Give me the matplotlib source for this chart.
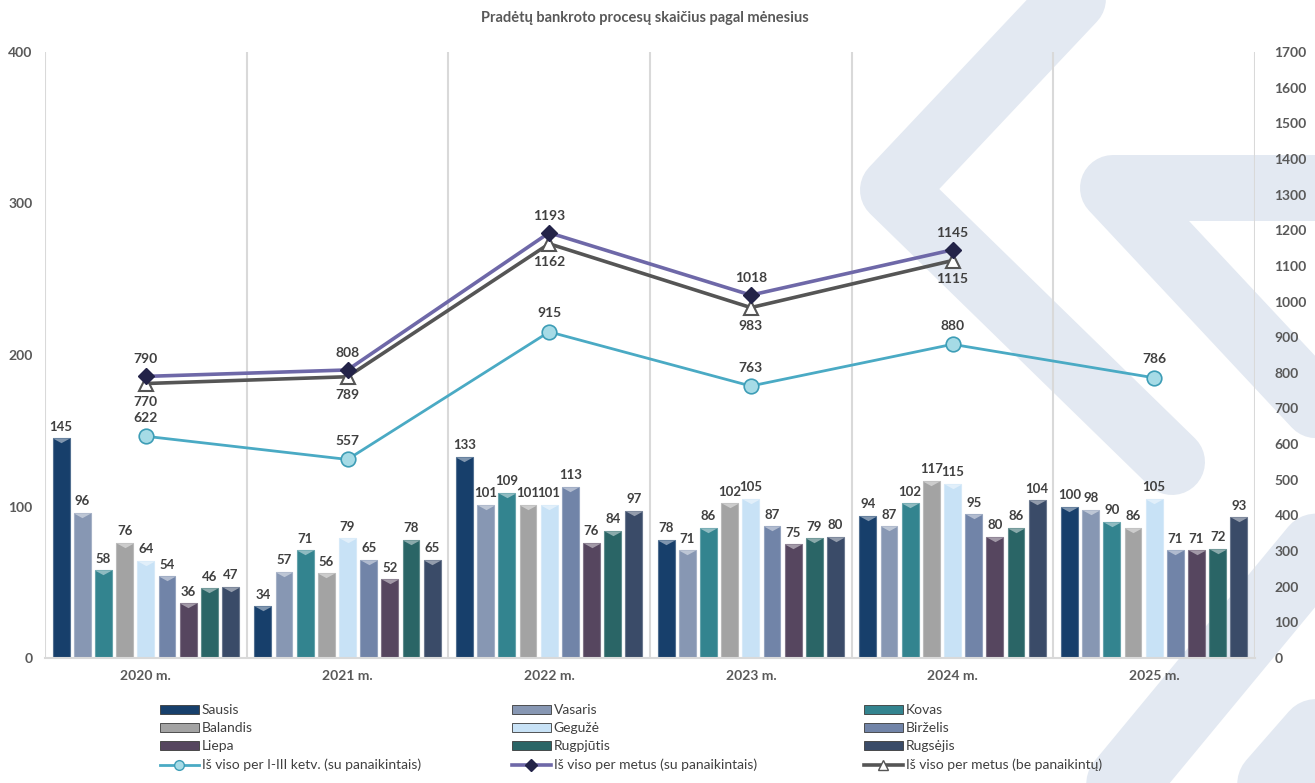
import numpy as np
import matplotlib
matplotlib.use("Agg")
import matplotlib.pyplot as plt
from matplotlib.colors import to_rgb
from matplotlib.patches import Patch
from matplotlib.lines import Line2D

plt.rcParams["font.family"] = ["Lato", "DejaVu Sans"]

# ------------------------- DATA -------------------------
years = ["2020 m.", "2021 m.", "2022 m.", "2023 m.", "2024 m.", "2025 m."]
months = ["Sausis", "Vasaris", "Kovas", "Balandis", "Gegužė", "Birželis",
          "Liepa", "Rugpjūtis", "Rugsėjis"]
# rows = years, columns = months
monthly = [
    [145, 96, 58, 76, 64, 54, 36, 46, 47],
    [34, 57, 71, 56, 79, 65, 52, 78, 65],
    [133, 101, 109, 101, 101, 113, 76, 84, 97],
    [78, 71, 86, 102, 105, 87, 75, 79, 80],
    [94, 87, 102, 117, 115, 95, 80, 86, 104],
    [100, 98, 90, 86, 105, 71, 71, 72, 93],
]
q1_3_with = [622, 557, 915, 763, 880, 786]
year_with = [790, 808, 1193, 1018, 1145, None]
year_without = [770, 789, 1162, 983, 1115, None]

line_names = ["Iš viso per I-III ketv. (su panaikintais)",
              "Iš viso per metus (su panaikintais)",
              "Iš viso per metus (be panaikintų)"]
title = "Pradėtų bankroto procesų skaičius pagal mėnesius"

# ------------------------- STYLE -------------------------
bar_colors = ["#173f6b", "#8797b3", "#33848f", "#a3a3a3", "#c8e2f6",
              "#7184a8", "#56465f", "#2a6566", "#3a4b68"]
TXT = "#404040"
GRID = "#d9d9d9"
WM = "#e3e9f2"

# watermark bands in figure pixels (x, y from top-left)
wm_bands = [
    ([1110, 1072, 893, 1172], [-40, 0, 190, 462], 66),
    ([1400, 1113, 1400], [188, 188, 495], 66),
    ([1090, 1400], [823, 448], 72),
    ([1240, 1400], [822, 639], 72),
]

def lighten(c, f):
    r = np.array(to_rgb(c))
    return tuple(r + (1 - r) * f)

W, H = 1315, 783
fig = plt.figure(figsize=(W / 100, H / 100), dpi=100)
fig.patch.set_facecolor("white")

# watermark layer
bg = fig.add_axes([0, 0, 1, 1], zorder=0)
bg.set_xlim(0, W); bg.set_ylim(H, 0); bg.axis("off")
for xs, ys, wpx in wm_bands:
    bg.plot(xs, ys, color=WM, lw=wpx * 0.72, solid_capstyle="round",
            solid_joinstyle="round")

# main axes
L, R, T, B = 45, 1255, 52, 658
ax = fig.add_axes([L / W, 1 - B / H, (R - L) / W, (B - T) / H], zorder=1)
ax.patch.set_alpha(0)

n_m = len(months)
x = np.arange(len(years))
pitch = 0.105
bw = 0.083
data = np.array(monthly)
bevel = [(-1, 0), (1, 0), (0, -0.55)]
bar_handles = []
for j in range(n_m):
    off = (j - (n_m - 1) / 2) * pitch
    bars = ax.bar(x + off, data[:, j], width=bw, color=bar_colors[j],
                  edgecolor=lighten(bar_colors[j], 0.25), linewidth=0.8, zorder=2)
    ax.scatter(x + off, data[:, j], marker=bevel, s=150,
               color=lighten(bar_colors[j], 0.45), linewidths=0, zorder=2.5)
    ax.bar_label(bars, padding=4, fontsize=9.5, fontweight="bold", color=TXT)
    bar_handles.append(Patch(facecolor=bar_colors[j], edgecolor="#3a3a3a", lw=0.6))

ax.set_xlim(-0.5, len(years) - 0.5)
ax.set_ylim(0, 400)
ax.set_yticks([0, 100, 200, 300, 400])
ax.set_xticks(x)
ax.set_xticklabels(years)
for b in np.arange(-0.5, len(years), 1.0):
    ax.axvline(b, color=GRID, lw=1.5, zorder=1)
for s in ["top", "right", "left"]:
    ax.spines[s].set_visible(False)
ax.spines["bottom"].set_color(GRID)
ax.spines["bottom"].set_linewidth(1.5)
ax.tick_params(axis="both", length=0, labelcolor="#595959", labelsize=10)
ax.tick_params(axis="y", pad=9)
ax.tick_params(axis="x", pad=9)
for lab in ax.get_xticklabels() + ax.get_yticklabels():
    lab.set_fontweight("bold")

# secondary axis with the totals
ax2 = ax.twinx()
ax2.set_ylim(0, 1700)
ax2.set_yticks(np.arange(0, 1701, 100))
for s in ax2.spines.values():
    s.set_visible(False)
ax2.tick_params(axis="y", length=0, labelcolor="#595959", labelsize=10, pad=14)
for lab in ax2.get_yticklabels():
    lab.set_fontweight("bold")

def clean(vals):
    return np.array([np.nan if v is None else v for v in vals], dtype=float)

yw = clean(year_with)
ywo = clean(year_without)
yq = clean(q1_3_with)

ax2.plot(x, ywo, color="#555555", lw=2.6, marker="^", ms=10,
         mfc="white", mec="#555555", mew=1.5, zorder=3)
ax2.plot(x, yw, color="#6e68a8", lw=2.6, marker="D", ms=8,
         mfc="#232348", mec="#232348", zorder=4)
ax2.plot(x, yq, color="#4aaac4", lw=2, marker="o", ms=10.5,
         mfc="#a6dbe6", mec="#3d9db6", mew=1.2, zorder=5)

for xi, v in zip(x, yw):
    if not np.isnan(v):
        ax2.annotate(f"{int(v)}", (xi, v), xytext=(0, 8), textcoords="offset points",
                     ha="center", va="bottom", fontsize=10, fontweight="bold", color=TXT)
for xi, v in zip(x, ywo):
    if not np.isnan(v):
        ax2.annotate(f"{int(v)}", (xi, v), xytext=(0, -9), textcoords="offset points",
                     ha="center", va="top", fontsize=10, fontweight="bold", color=TXT)
for xi, v in zip(x, yq):
    ax2.annotate(f"{int(v)}", (xi, v), xytext=(0, 9), textcoords="offset points",
                 ha="center", va="bottom", fontsize=10, fontweight="bold", color=TXT)

fig.text(645 / W, 1 - 18 / H, title, ha="center", va="center",
         fontsize=10.5, fontweight="bold", color="#595959")

# legend: three columns, row-major order like the original
line_handles = [
    Line2D([], [], color="#4aaac4", lw=2, marker="o", ms=7, mfc="#a6dbe6", mec="#3d9db6"),
    Line2D([], [], color="#6e68a8", lw=2.6, marker="D", ms=6, mfc="#232348", mec="#232348"),
    Line2D([], [], color="#555555", lw=2.6, marker="^", ms=7, mfc="white", mec="#555555"),
]
col_x = [160, 512, 864]
for c in range(3):
    hs = [bar_handles[c], bar_handles[c + 3], bar_handles[c + 6], line_handles[c]]
    ls = [months[c], months[c + 3], months[c + 6], line_names[c]]
    lg = fig.legend(hs, ls, loc="upper left", bbox_to_anchor=(col_x[c] / W, 1 - 704 / H),
                    frameon=False, fontsize=10, handlelength=2.8, handleheight=0.6,
                    handletextpad=0.2, labelspacing=0.45, borderpad=0, borderaxespad=0)
    for t in lg.get_texts():
        t.set_color(TXT)

fig.savefig("out.png", dpi=100)
